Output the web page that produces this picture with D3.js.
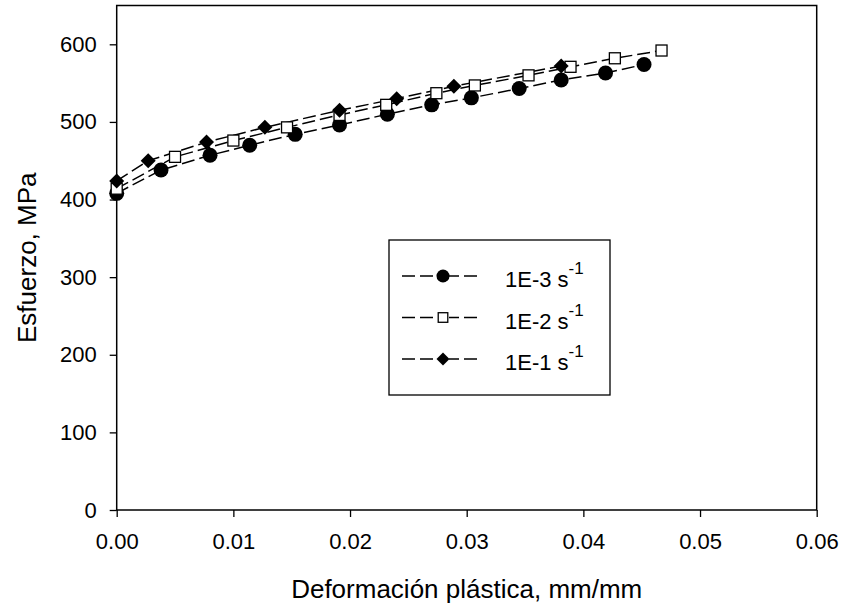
<!DOCTYPE html>
<html lang="es">
<head>
<meta charset="UTF-8">
<title>Esfuerzo vs deformación</title>
<script src="https://cdn.jsdelivr.net/npm/d3@7"></script>
<style>
  body { margin: 0; background: #fff; }
  svg text { font-family: "Liberation Sans", Arial, sans-serif; fill: #000; }
</style>
</head>
<body>
<div id="chart"></div>
<script>
// strain rate 1E-3 s^-1
var strainA = [0, 0.0038, 0.0080, 0.0114, 0.0153, 0.0191, 0.0232, 0.0270, 0.0304, 0.0345, 0.0381, 0.0419, 0.0452];
var stressA = [408, 438, 457, 470, 484, 496, 510, 522, 531, 543, 554, 563, 574];
// strain rate 1E-2 s^-1
var strainB = [0, 0.0050, 0.0100, 0.0146, 0.0191, 0.0231, 0.0274, 0.0307, 0.0353, 0.0389, 0.0427, 0.0467];
var stressB = [414, 455, 476, 493, 509, 522, 537, 547, 560, 571, 582, 592];
// strain rate 1E-1 s^-1
var strainC = [0, 0.0027, 0.0077, 0.0127, 0.0191, 0.0240, 0.0289, 0.0381];
var stressC = [424, 450, 474, 493, 515, 530, 546, 572];

var seriesNames = ["1E-3 s", "1E-2 s", "1E-1 s"];
var xTicks = [0, 0.01, 0.02, 0.03, 0.04, 0.05, 0.06];
var yTicks = [0, 100, 200, 300, 400, 500, 600];

var W = 844, H = 607;
var m = {left: 116.7, right: 816.7, top: 5.5, bottom: 510};

var svg = d3.select("#chart").append("svg")
  .attr("width", W).attr("height", H);

var x = d3.scaleLinear().domain([0, 0.06]).range([m.left, m.right]);
var y = d3.scaleLinear().domain([0, 650]).range([m.bottom, m.top]);

// axes (ticks outside, no domain path)
var xAxis = svg.append("g")
  .attr("transform", "translate(0," + m.bottom + ")")
  .call(d3.axisBottom(x).tickValues(xTicks).tickFormat(d3.format(".2f")).tickSize(7).tickPadding(16));
var yAxis = svg.append("g")
  .attr("transform", "translate(" + m.left + ",0)")
  .call(d3.axisLeft(y).tickValues(yTicks).tickSize(7).tickPadding(13));
[xAxis, yAxis].forEach(function(g) {
  g.select(".domain").remove();
  g.selectAll("line").attr("stroke", "#000").attr("stroke-width", 1.3);
  g.selectAll("text").style("font-size", "22px").attr("fill", "#000");
});

// frame
svg.append("rect")
  .attr("x", m.left).attr("y", m.top)
  .attr("width", m.right - m.left).attr("height", m.bottom - m.top)
  .attr("fill", "none").attr("stroke", "#000").attr("stroke-width", 1.5);

// axis titles
svg.append("text")
  .attr("x", (m.left + m.right) / 2).attr("y", 598)
  .attr("text-anchor", "middle").style("font-size", "26px")
  .text("Deformación plástica, mm/mm");
svg.append("text")
  .attr("transform", "translate(36," + ((m.top + m.bottom) / 2) + ") rotate(-90)")
  .attr("text-anchor", "middle").style("font-size", "26px")
  .text("Esfuerzo, MPa");

var dash = "13,5";

function zipPts(xs, ys) {
  return xs.map(function(v, i) { return [v, ys[i]]; });
}
var data = [zipPts(strainA, stressA), zipPts(strainB, stressB), zipPts(strainC, stressC)];

var line = d3.line().x(function(d) { return x(d[0]); }).y(function(d) { return y(d[1]); });

// dashed connecting lines
data.forEach(function(pts) {
  svg.append("path")
    .attr("d", line(pts))
    .attr("fill", "none").attr("stroke", "#000")
    .attr("stroke-width", 1.5).attr("stroke-dasharray", dash);
});

// marker drawers
function circleMark(g, cx, cy, r) {
  g.append("circle").attr("cx", cx).attr("cy", cy).attr("r", r).attr("fill", "#000");
}
function squareMark(g, cx, cy, s) {
  g.append("rect").attr("x", cx - s / 2).attr("y", cy - s / 2)
    .attr("width", s).attr("height", s)
    .attr("fill", "#fff").attr("stroke", "#000").attr("stroke-width", 1.3);
}
function diamondMark(g, cx, cy, h) {
  g.append("path")
    .attr("d", "M" + cx + "," + (cy - h) + "L" + (cx + h) + "," + cy + "L" + cx + "," + (cy + h) + "L" + (cx - h) + "," + cy + "Z")
    .attr("fill", "#000");
}
var marks = [
  function(g, cx, cy, k) { circleMark(g, cx, cy, 7.5 * k); },
  function(g, cx, cy, k) { squareMark(g, cx, cy, 11 * k); },
  function(g, cx, cy, k) { diamondMark(g, cx, cy, 7.5 * k); }
];

var pointsG = svg.append("g");
data.forEach(function(pts, i) {
  pts.forEach(function(d) { marks[i](pointsG, x(d[0]), y(d[1]), 1); });
});

// legend
var lg = svg.append("g");
lg.append("rect")
  .attr("x", 389).attr("y", 240).attr("width", 221).attr("height", 155)
  .attr("fill", "#fff").attr("stroke", "#000").attr("stroke-width", 1.3);
seriesNames.forEach(function(name, i) {
  var cy = 276 + i * 41.5;
  // sample line drawn from both ends toward the marker
  [[402, 437], [477, 449]].forEach(function(seg) {
    lg.append("line")
      .attr("x1", seg[0]).attr("x2", seg[1]).attr("y1", cy).attr("y2", cy)
      .attr("stroke", "#000").attr("stroke-width", 1.5).attr("stroke-dasharray", dash);
  });
  marks[i](lg, 443, cy, 0.87);
  var t = lg.append("text").attr("x", 505).attr("y", cy + 11).style("font-size", "22px");
  t.append("tspan").text(name);
  t.append("tspan").attr("dy", -13).style("font-size", "17px").text("-1");
});
</script>
</body>
</html>
